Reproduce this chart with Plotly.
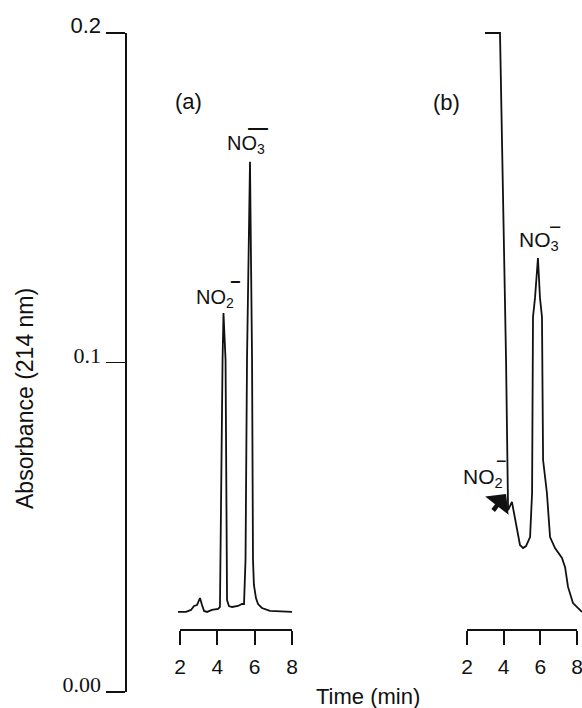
import plotly.graph_objects as go

# ---------------- data ----------------
# panel (a): standard mixture
time_a = [1.89, 2.32, 2.59, 2.75, 2.91, 3.07, 3.18, 3.29, 3.45, 3.71, 4.04, 4.14,
          4.28, 4.33, 4.44, 4.52, 4.62, 4.79, 5.11, 5.32, 5.43, 5.51, 5.59, 5.75,
          5.86, 5.91, 5.96, 6.07, 6.18, 6.39, 6.82, 8.00]
abs_a = [0.0243, 0.0243, 0.0249, 0.0261, 0.0264, 0.0285, 0.0264, 0.0246, 0.0243, 0.0249, 0.0252, 0.0258,
         0.1008, 0.1150, 0.1008, 0.0279, 0.0261, 0.0258, 0.0261, 0.0267, 0.0267, 0.0401, 0.1008, 0.1609,
         0.1008, 0.0401, 0.0325, 0.0285, 0.0267, 0.0255, 0.0246, 0.0243]

# panel (b): sample
time_b = [2.98, 3.80, 4.13, 4.24, 4.45, 4.51, 4.73, 4.89, 5.06, 5.22, 5.44, 5.55,
          5.60, 5.71, 5.87, 5.98, 6.09, 6.15, 6.36, 6.53, 6.80, 7.18, 7.35, 7.51,
          7.78, 8.27]
abs_b = [0.2000, 0.2000, 0.1008, 0.0552, 0.0577, 0.0558, 0.0501, 0.0446, 0.0437, 0.0443, 0.0470, 0.0604,
         0.1138, 0.1196, 0.1317, 0.1196, 0.1138, 0.0704, 0.0604, 0.0470, 0.0437, 0.0407, 0.0379, 0.0319,
         0.0270, 0.0243]

x_ticks = [2, 4, 6, 8]
y_ticks = [0.0, 0.1, 0.2]
y_tick_text = ["0.00", "0.1", "0.2"]
y_tick_fonts = ["Liberation Serif", "Liberation Serif", "Liberation Sans"]

# ---------------- layout geometry (page pixels) ----------------
W, H = 582, 708
FONT = "Liberation Sans"
INK = "#111111"


def fx(px):
    return px / W


def fy(py):
    return 1 - py / H


Y0_PX, Y1_PX = 692, 33          # rows of the lowest / highest y tick
YAX_PX = 125                    # column of the y-axis line
XAX_PX = 629                    # row of the time axes
A_X, B_X = (180, 292), (467, 577)   # columns of first / last time tick

a_per_px = (y_ticks[-1] - y_ticks[0]) / (Y0_PX - Y1_PX)
y_data_range = [y_ticks[0] + (Y0_PX - H) * a_per_px, y_ticks[0] + Y0_PX * a_per_px]


def x_data_range(cols):
    t_per_px = (x_ticks[-1] - x_ticks[0]) / (cols[1] - cols[0])
    return [x_ticks[0] - cols[0] * t_per_px, x_ticks[0] + (W - cols[0]) * t_per_px]


fig = go.Figure()

# axis-holder traces (no data) so the free axes get drawn
for xa, ya in [("x", "y"), ("x2", "y"), ("x", "y2")]:
    fig.add_trace(go.Scatter(x=[None], y=[None], xaxis=xa, yaxis=ya,
                             showlegend=False, hoverinfo="skip"))

fig.add_trace(go.Scatter(x=time_a, y=abs_a, xaxis="x3", yaxis="y3", mode="lines",
                         line=dict(color=INK, width=1.8), showlegend=False, name="(a)"))
fig.add_trace(go.Scatter(x=time_b, y=abs_b, xaxis="x4", yaxis="y3", mode="lines",
                         line=dict(color=INK, width=1.8), showlegend=False, name="(b)"))

time_axis = dict(range=[x_ticks[0], x_ticks[-1]], anchor="free", position=fy(XAX_PX),
                 showline=True, linecolor=INK, linewidth=1.8, ticks="outside", ticklen=14,
                 tickwidth=1.8, tickcolor=INK, tickvals=x_ticks, showgrid=False, zeroline=False,
                 tickfont=dict(family=FONT, size=21, color=INK), ticklabelstandoff=4,
                 ticklabeloverflow="allow", automargin=False, fixedrange=True)

label_shift_px = 7.5
ticktext = [f'<span style="font-family:{f}">{t}</span>' for t, f in zip(y_tick_text, y_tick_fonts)]

fig.update_layout(
    width=W, height=H, autosize=False,
    margin=dict(l=0, r=0, t=0, b=0, pad=0, autoexpand=False),
    paper_bgcolor="white", plot_bgcolor="rgba(0,0,0,0)",
    showlegend=False,
    xaxis=dict(domain=[fx(A_X[0]), fx(A_X[1])], **time_axis),
    xaxis2=dict(domain=[fx(B_X[0]), fx(B_X[1])], **time_axis),
    xaxis3=dict(visible=False, domain=[0, 1], range=x_data_range(A_X), anchor="y3", fixedrange=True),
    xaxis4=dict(visible=False, domain=[0, 1], range=x_data_range(B_X), anchor="y3",
                overlaying="x3", fixedrange=True),
    yaxis=dict(domain=[fy(Y0_PX), fy(Y1_PX)], range=[y_ticks[0], y_ticks[-1]], anchor="free",
               position=fx(YAX_PX), showline=True, linecolor=INK, linewidth=1.8,
               ticks="outside", ticklen=19, tickwidth=1.8, tickcolor=INK, tickvals=y_ticks,
               showticklabels=False, showgrid=False, zeroline=False, automargin=False,
               fixedrange=True),
    yaxis2=dict(domain=[fy(Y0_PX - label_shift_px), fy(Y1_PX - label_shift_px)],
                range=[y_ticks[0], y_ticks[-1]], anchor="free", position=fx(YAX_PX),
                showline=False, ticks="", tickvals=y_ticks, ticktext=ticktext,
                tickfont=dict(family=FONT, size=22, color=INK), ticklabelstandoff=24,
                ticklabeloverflow="allow",
                showgrid=False, zeroline=False, automargin=False, fixedrange=True),
    yaxis3=dict(visible=False, domain=[0, 1], range=y_data_range, anchor="x3", fixedrange=True),
)


def label(text, px, py, size=21, xanchor="center", bold=False):
    if bold:
        text = f"<b>{text}</b>"
    fig.add_annotation(text=text, x=fx(px), y=fy(py), xref="paper", yref="paper",
                       xanchor=xanchor, yanchor="middle", showarrow=False,
                       font=dict(family=FONT, size=size, color=INK))


# axis titles
fig.add_annotation(text="Absorbance (214 nm)", x=fx(25), y=fy(399), xref="paper", yref="paper",
                   textangle=-90, showarrow=False, xanchor="center", yanchor="middle",
                   font=dict(family=FONT, size=23, color=INK))
label("Time (min)", 368, 696, size=22)

# panel labels
label("(a)", 188, 101, size=22)
label("(b)", 446, 102, size=22)

# peak labels
label("NO<sub>3</sub>", 225, 145, size=20, xanchor="left")
label("—", 258, 127, size=20, bold=True)
label("NO<sub>2</sub>", 194, 298, size=20, xanchor="left")
label("−", 235, 282, size=18, bold=True)
label("NO<sub>3</sub>", 517, 241, size=21, xanchor="left")
label("−", 555, 226, size=21)
label("NO<sub>2</sub>", 461, 478, size=21, xanchor="left")
label("−", 501, 461, size=18)

# arrow pointing at the nitrite shoulder in (b)
fig.add_annotation(text="", x=fx(506), y=fy(494), xref="paper", yref="paper",
                   showarrow=True, ax=-14, ay=18, arrowhead=1, arrowsize=1.1,
                   arrowwidth=4.5, arrowcolor=INK)

fig.write_html("out.html",
               config={"displayModeBar": False, "staticPlot": True},
               post_script="document.body.style.margin='0';document.body.style.overflow='hidden';")
